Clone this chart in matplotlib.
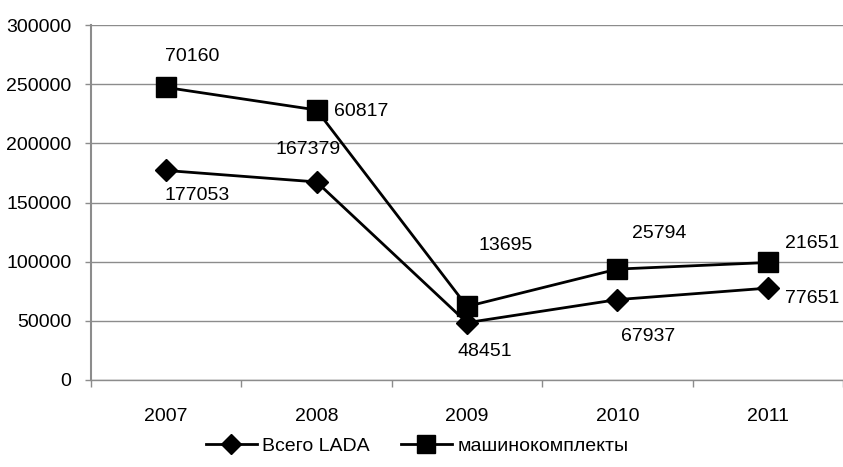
import matplotlib.pyplot as plt
import numpy as np

years = ['2007', '2008', '2009', '2010', '2011']
lada_total = [177053, 167379, 48451, 67937, 77651]
kits = [70160, 60817, 13695, 25794, 21651]

# label offsets in pixels (dx, dy) relative to each marker
lada_offsets = [(31, -25), (-9, 32), (18, -29), (31, -37), (44, -10)]
kits_offsets = [(26, 31), (45, -2), (39, 61), (42, 36), (44, 19)]

plt.rcParams['font.family'] = ['Liberation Sans', 'DejaVu Sans']
plt.rcParams['font.size'] = 14

fig = plt.figure(figsize=(8.43, 4.67), dpi=100)
ax = fig.add_axes([91 / 843, 1 - 380 / 467, 752 / 843, 355 / 467])

x = np.arange(len(years))
lada = np.array(lada_total)
stacked = lada + np.array(kits)

ax.plot(x, lada, color='black', lw=2, marker='D', ms=11, label='Всего LADA', zorder=3)
ax.plot(x, stacked, color='black', lw=2, marker='s', ms=14, label='машинокомплекты', zorder=3)

px = 72 / fig.dpi
for i in range(len(years)):
    dx, dy = lada_offsets[i]
    ax.annotate(str(lada_total[i]), (x[i], lada[i]), xytext=(dx * px, dy * px),
                textcoords='offset points', ha='center', va='center')
    dx, dy = kits_offsets[i]
    ax.annotate(str(kits[i]), (x[i], stacked[i]), xytext=(dx * px, dy * px),
                textcoords='offset points', ha='center', va='center')

ax.set_xlim(-0.5, 4.5)
ax.set_ylim(0, 300000)
ax.set_yticks(np.arange(0, 300001, 50000))
ax.yaxis.grid(True, color='#8c8c8c', lw=1)
ax.set_axisbelow(True)

ax.set_xticks(x)
ax.set_xticklabels(years)
ax.set_xticks(np.arange(-0.5, 5, 1), minor=True)
ax.tick_params(axis='x', which='major', length=0, pad=20)
ax.tick_params(axis='x', which='minor', length=5, color='#8c8c8c', width=1)
ax.tick_params(axis='y', length=4, color='#8c8c8c', width=1, pad=10)

for s in ['top', 'right']:
    ax.spines[s].set_visible(False)
ax.spines['left'].set_color('#8c8c8c')
ax.spines['left'].set_linewidth(1.5)
ax.spines['bottom'].set_color('#8c8c8c')
ax.spines['bottom'].set_linewidth(1)

fig.legend(loc='center', bbox_to_anchor=(0.495, 1 - 446 / 467), ncol=2, frameon=False,
           handlelength=2.6, columnspacing=1.6, handletextpad=0.3, markerscale=0.9)

fig.savefig('out.png', dpi=100)
